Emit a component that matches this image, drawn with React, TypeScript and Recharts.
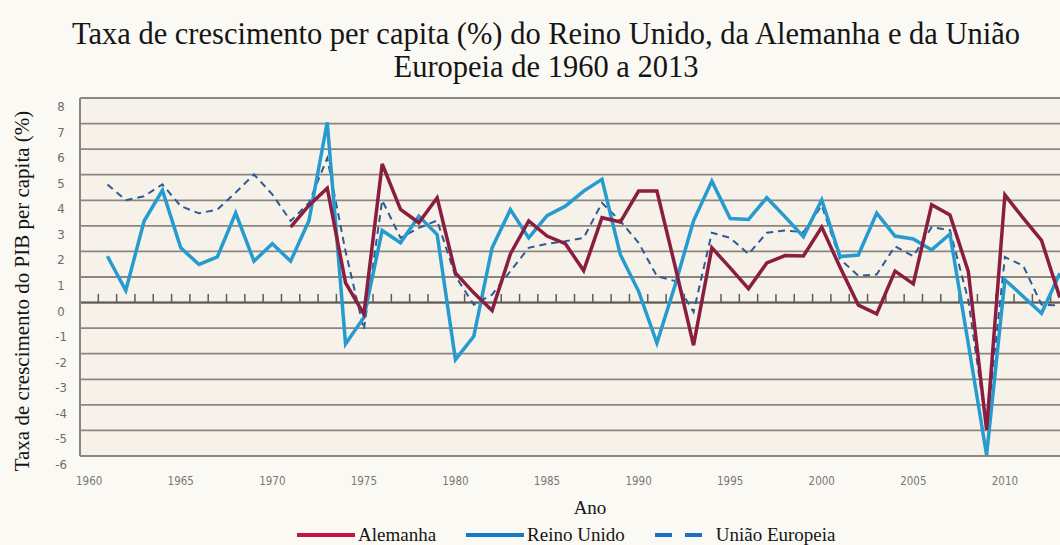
import React from 'react';
import { LineChart, Line, XAxis, YAxis, CartesianGrid, ReferenceLine } from 'recharts';

const anos = [
  1960, 1961, 1962, 1963, 1964, 1965, 1966, 1967, 1968, 1969,
  1970, 1971, 1972, 1973, 1974, 1975, 1976, 1977, 1978, 1979,
  1980, 1981, 1982, 1983, 1984, 1985, 1986, 1987, 1988, 1989,
  1990, 1991, 1992, 1993, 1994, 1995, 1996, 1997, 1998, 1999,
  2000, 2001, 2002, 2003, 2004, 2005, 2006, 2007, 2008, 2009,
  2010, 2011, 2012, 2013,
];

const alemanha = [
  null, null, null, null, null, null, null, null, null, null,
  null, 2.95, 3.8, 4.47, 0.77, -0.45, 5.42, 3.64, 3.12, 4.1,
  1.16, 0.38, -0.31, 1.9, 3.19, 2.6, 2.3, 1.25, 3.32, 3.15,
  4.36, 4.36, 1.4, -1.67, 2.14, 1.36, 0.54, 1.55, 1.84, 1.82,
  2.95, 1.38, -0.1, -0.44, 1.23, 0.73, 3.83, 3.43, 1.22, -4.98,
  4.21, 3.3, 2.43, 0.2,
];

const reinoUnido = [
  null, 1.81, 0.47, 3.19, 4.39, 2.14, 1.49, 1.79, 3.5, 1.62,
  2.3, 1.62, 3.2, 7.05, -1.62, -0.58, 2.82, 2.34, 3.38, 2.66,
  -2.23, -1.32, 2.14, 3.64, 2.53, 3.4, 3.77, 4.36, 4.82, 1.88,
  0.44, -1.58, 0.7, 3.2, 4.75, 3.29, 3.25, 4.1, 3.35, 2.58,
  4.02, 1.8, 1.86, 3.5, 2.6, 2.49, 2.06, 2.68, -1.6, -5.96,
  0.89, 0.24, -0.42, 1.15,
];

const uniaoEuropeia = [
  null, 4.62, 4.0, 4.16, 4.62, 3.77, 3.49, 3.64, 4.3, 5.01,
  4.23, 3.19, 3.9, 5.65, 2.0, -1.06, 4.0, 2.53, 2.92, 3.21,
  1.03, -0.08, 0.31, 1.23, 2.14, 2.3, 2.4, 2.53, 3.9, 3.19,
  2.34, 1.03, 0.84, -0.37, 2.73, 2.53, 1.9, 2.73, 2.82, 2.75,
  3.8, 1.7, 1.05, 1.1, 2.2, 1.81, 2.95, 2.83, 0.1, -4.9,
  1.78, 1.44, -0.08, -0.12,
];

const xTicks = [1960, 1965, 1970, 1975, 1980, 1985, 1990, 1995, 2000, 2005, 2010];
const yTicks = [-6, -5, -4, -3, -2, -1, 0, 1, 2, 3, 4, 5, 6, 7, 8];

// marcas entre categorias sobre a linha do zero
const divisoes = anos.slice(1).map((a) => a - 0.5);

const series = [
  { key: 'uniaoEuropeia', nome: 'União Europeia', cor: '#2c5b95', legenda: '#1f6fc0', largura: 2, dash: '7 5' },
  { key: 'reinoUnido', nome: 'Reino Unido', cor: '#259bd0', legenda: '#1479c9', largura: 3.5, dash: undefined },
  { key: 'alemanha', nome: 'Alemanha', cor: '#8a1d40', legenda: '#bf1740', largura: 3.5, dash: undefined },
];
const ordemLegenda = ['alemanha', 'reinoUnido', 'uniaoEuropeia'];

const data = anos.map((ano, i) => ({
  ano,
  alemanha: alemanha[i],
  reinoUnido: reinoUnido[i],
  uniaoEuropeia: uniaoEuropeia[i],
}));

const tickFont = '"Liberation Sans Narrow", "DejaVu Sans Condensed", "Liberation Sans", sans-serif';
const serif = '"Liberation Serif", "Times New Roman", serif';
const grid = '#8b8680';

const XTick = ({ x, payload }: any) => (
  <text x={x} y={485} textAnchor="middle" fontSize={11.5} fill="#7b7772" fontFamily={tickFont}>
    {payload.value}
  </text>
);

const YTick = ({ y, payload }: any) => (
  <text x={61} y={y + 13} textAnchor="middle" fontSize={13} fill="#6f6b66" fontFamily={tickFont}>
    {payload.value}
  </text>
);

export default function App() {
  return (
    <div
      style={{
        position: 'absolute',
        left: 0,
        top: 0,
        width: 1060,
        height: 545,
        overflow: 'hidden',
        background: '#fbf9f4',
        fontFamily: serif,
      }}
    >
      <div
        style={{
          position: 'absolute',
          left: 0,
          top: 18,
          width: 1092,
          textAlign: 'center',
          fontSize: 30.5,
          lineHeight: '33px',
          color: '#151515',
        }}
      >
        Taxa de crescimento per capita (%) do Reino Unido, da Alemanha e da União
        <br />
        Europeia de 1960 a 2013
      </div>

      <LineChart width={1075} height={545} data={data} margin={{ top: 98, right: 6, bottom: 49, left: 0 }}>
        <CartesianGrid vertical={false} stroke={grid} strokeWidth={1.8} fill="#f6f2e9" />
        <XAxis
          type="number"
          dataKey="ano"
          domain={[1959.5, 2013.5]}
          ticks={xTicks}
          interval={0}
          axisLine={false}
          tickLine={false}
          height={40}
          tick={<XTick />}
        />
        <YAxis
          domain={[-6, 8]}
          ticks={yTicks}
          interval={0}
          width={80}
          axisLine={{ stroke: grid, strokeWidth: 2 }}
          tickLine={false}
          tick={<YTick />}
        />
        <ReferenceLine y={0} stroke="#5f5b56" strokeWidth={2} />
        {divisoes.map((d) => (
          <ReferenceLine
            key={d}
            segment={[
              { x: d, y: 0 },
              { x: d, y: 0.34 },
            ]}
            stroke="#5f5b56"
            strokeWidth={1.5}
          />
        ))}
        {series.map((s) => (
          <Line
            key={s.key}
            type="linear"
            dataKey={s.key}
            name={s.nome}
            stroke={s.cor}
            strokeWidth={s.largura}
            strokeDasharray={s.dash}
            dot={false}
            activeDot={false}
            isAnimationActive={false}
          />
        ))}
      </LineChart>

      <div
        style={{
          position: 'absolute',
          left: 22,
          top: 291,
          transform: 'translate(-50%, -50%) rotate(-90deg)',
          whiteSpace: 'nowrap',
          fontSize: 21,
          color: '#151515',
        }}
      >
        Taxa de crescimento do PIB per capita (%)
      </div>

      <div
        style={{
          position: 'absolute',
          left: 590,
          top: 497,
          transform: 'translateX(-50%)',
          fontSize: 19,
          lineHeight: '22px',
          color: '#151515',
        }}
      >
        Ano
      </div>

      <div
        style={{
          position: 'absolute',
          left: 297,
          top: 524,
          display: 'flex',
          alignItems: 'center',
          gap: 30,
          fontSize: 19,
          lineHeight: '22px',
          color: '#151515',
        }}
      >
        {ordemLegenda.map((k) => {
          const s = series.find((e) => e.key === k)!;
          return (
            <div key={k} style={{ display: 'flex', alignItems: 'center' }}>
              <svg width={58} height={8} style={{ marginRight: 3 }}>
                <line
                  x1={0}
                  y1={4}
                  x2={58}
                  y2={4}
                  stroke={s.legenda}
                  strokeWidth={4}
                  strokeDasharray={s.dash ? '17 13' : undefined}
                />
              </svg>
              <span>{s.nome}</span>
            </div>
          );
        })}
      </div>
    </div>
  );
}
